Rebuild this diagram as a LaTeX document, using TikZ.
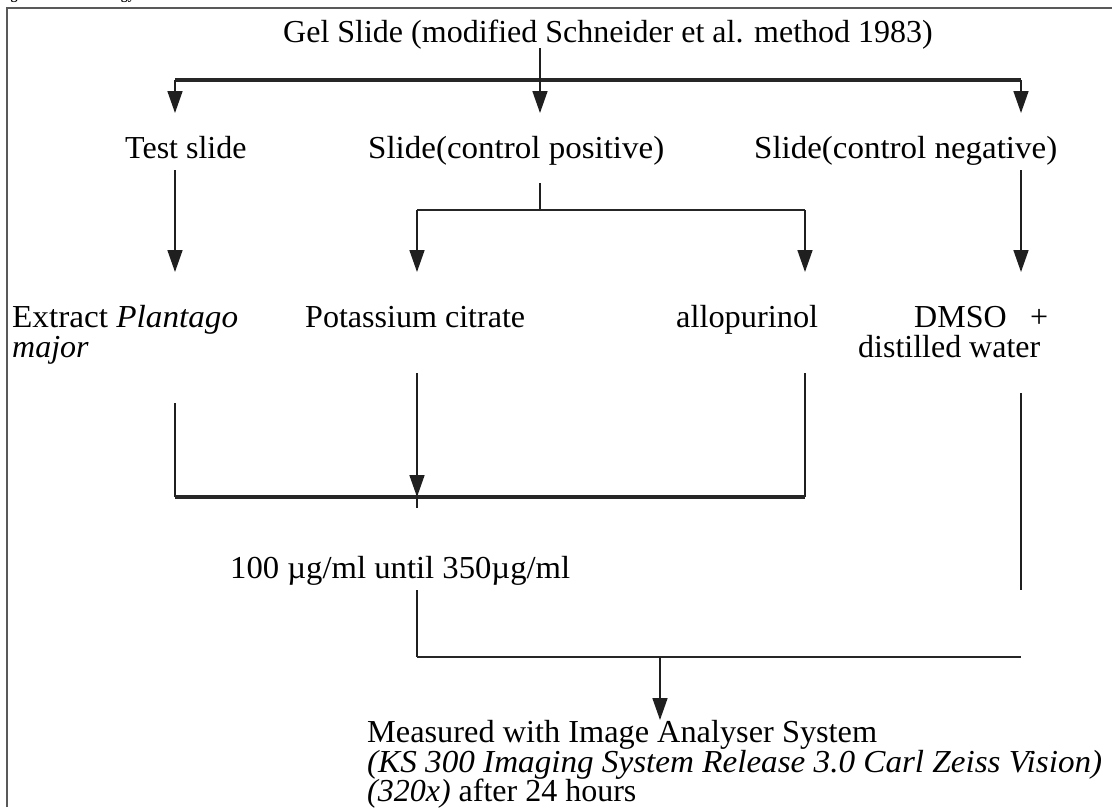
\documentclass[tikz,border=0pt]{standalone}
\usepackage{fontspec}
\setmainfont{Liberation Serif}
\usepackage{graphicx}
\usetikzlibrary{arrows.meta}
\newcommand{\fitw}[2]{\resizebox{#1pt}{\height}{#2}}
\begin{document}
\begin{tikzpicture}[x=1pt,y=-1pt,
  txt/.style={inner sep=0pt, anchor=base west, font=\fontsize{32}{36}\selectfont},
  ln/.style={line width=1.6pt, draw=black!88},
  thickln/.style={line width=3.2pt, draw=black!85},
  midln/.style={line width=2.4pt, draw=black!85},
  arr/.style={ln, -{Triangle[width=15pt,length=22pt]}},
  frameln/.style={line width=2pt, draw=black!65}]
\useasboundingbox (0,0) rectangle (1112,807);
\fill[white] (0,0) rectangle (1112,807);
% frame (open at right and bottom)
\coordinate (fbl) at (7,807);
\coordinate (ftl) at (7,8);
\coordinate (ftr) at (1112,8);
\draw[frameln] (fbl) -- (ftl) -- (ftr);
% cut-off caption
\node[txt] (cap) at (-2,-1) {\fontsize{14}{16}\selectfont\bfseries Figure 1. Methodology};
% texts
\node[txt] (gel) at (283,42) {Gel Slide (modified Schneider et al. method 1983)};
\node[txt] (test) at (125,158) {Test slide};
\node[txt] (pos) at (368,158) {\fitw{296}{Slide(control positive)}};
\node[txt] (neg) at (754,158) {\fitw{303}{Slide(control negative)}};
\node[txt] (extract) at (12,327) {\fitw{226}{Extract \textit{Plantago}}};
\node[txt] (major) at (12,357) {\textit{major}};
\node[txt] (potas) at (305,327) {\fitw{220}{Potassium citrate}};
\node[txt] (allo) at (676,327) {\fitw{142}{allopurinol}};
\node[txt] (dmso) at (914,327) {DMSO};
\node[txt] (plus) at (1030,327) {+};
\node[txt] (water) at (858,357) {\fitw{182}{distilled water}};
\node[txt] (conc) at (230,578) {\fitw{340}{100 µg/ml until 350µg/ml}};
\node[txt] (meas1) at (367,742) {\fitw{510}{Measured with Image Analyser System}};
\node[txt] (meas2) at (367,772) {\fitw{735}{\textit{(KS 300 Imaging System Release 3.0 Carl Zeiss Vision)}}};
\node[txt] (meas3) at (367,801) {\textit{(320x)} after 24 hours};
% level 1 connectors
\coordinate (gelS) at (540,48);
\coordinate (barL) at (175,80);
\coordinate (barM) at (540,80);
\coordinate (barR) at (1021,80);
\coordinate (t1) at (175,113);
\coordinate (t2) at (540,113);
\coordinate (t3) at (1021,113);
\draw[thickln] (barL) -- (barR);
\draw[arr] (gelS) -- (t2);
\draw[arr] (barL) -- (t1);
\draw[arr] (barR) -- (t3);
% level 2 connectors
\coordinate (testS) at (175,170);
\coordinate (testE) at (175,272);
\draw[arr] (testS) -- (testE);
\coordinate (posS) at (540,183);
\coordinate (posM) at (540,210);
\coordinate (posL) at (417,210);
\coordinate (posR) at (805,210);
\coordinate (posLE) at (417,272);
\coordinate (posRE) at (805,272);
\draw[ln] (posS) -- (posM);
\draw[midln] (posL) -- (posR);
\draw[arr] (posL) -- (posLE);
\draw[arr] (posR) -- (posRE);
\coordinate (negS) at (1021,170);
\coordinate (negE) at (1021,272);
\draw[arr] (negS) -- (negE);
% level 3 connectors
\coordinate (exS) at (175,403);
\coordinate (exE) at (175,497);
\coordinate (poS) at (417,373);
\coordinate (poE) at (417,497);
\coordinate (poX) at (417,508);
\coordinate (alS) at (805,373);
\coordinate (alE) at (805,497);
\coordinate (dmS) at (1021,393);
\coordinate (dmE) at (1021,590);
\draw[ln] (exS) -- (exE);
\draw[ln] (alS) -- (alE);
\draw[thickln] (exE) -- (alE);
\draw[arr] (poS) -- (poE);
\draw[ln] (poE) -- (poX);
\draw[ln] (dmS) -- (dmE);
% level 4 connectors
\coordinate (coS) at (417,590);
\coordinate (coE) at (417,657);
\coordinate (hR) at (1021,657);
\coordinate (mS) at (660,657);
\coordinate (mE) at (660,720);
\draw[ln] (coS) -- (coE);
\draw[midln] (coE) -- (hR);
\draw[arr] (mS) -- (mE);
\end{tikzpicture}
\end{document}
